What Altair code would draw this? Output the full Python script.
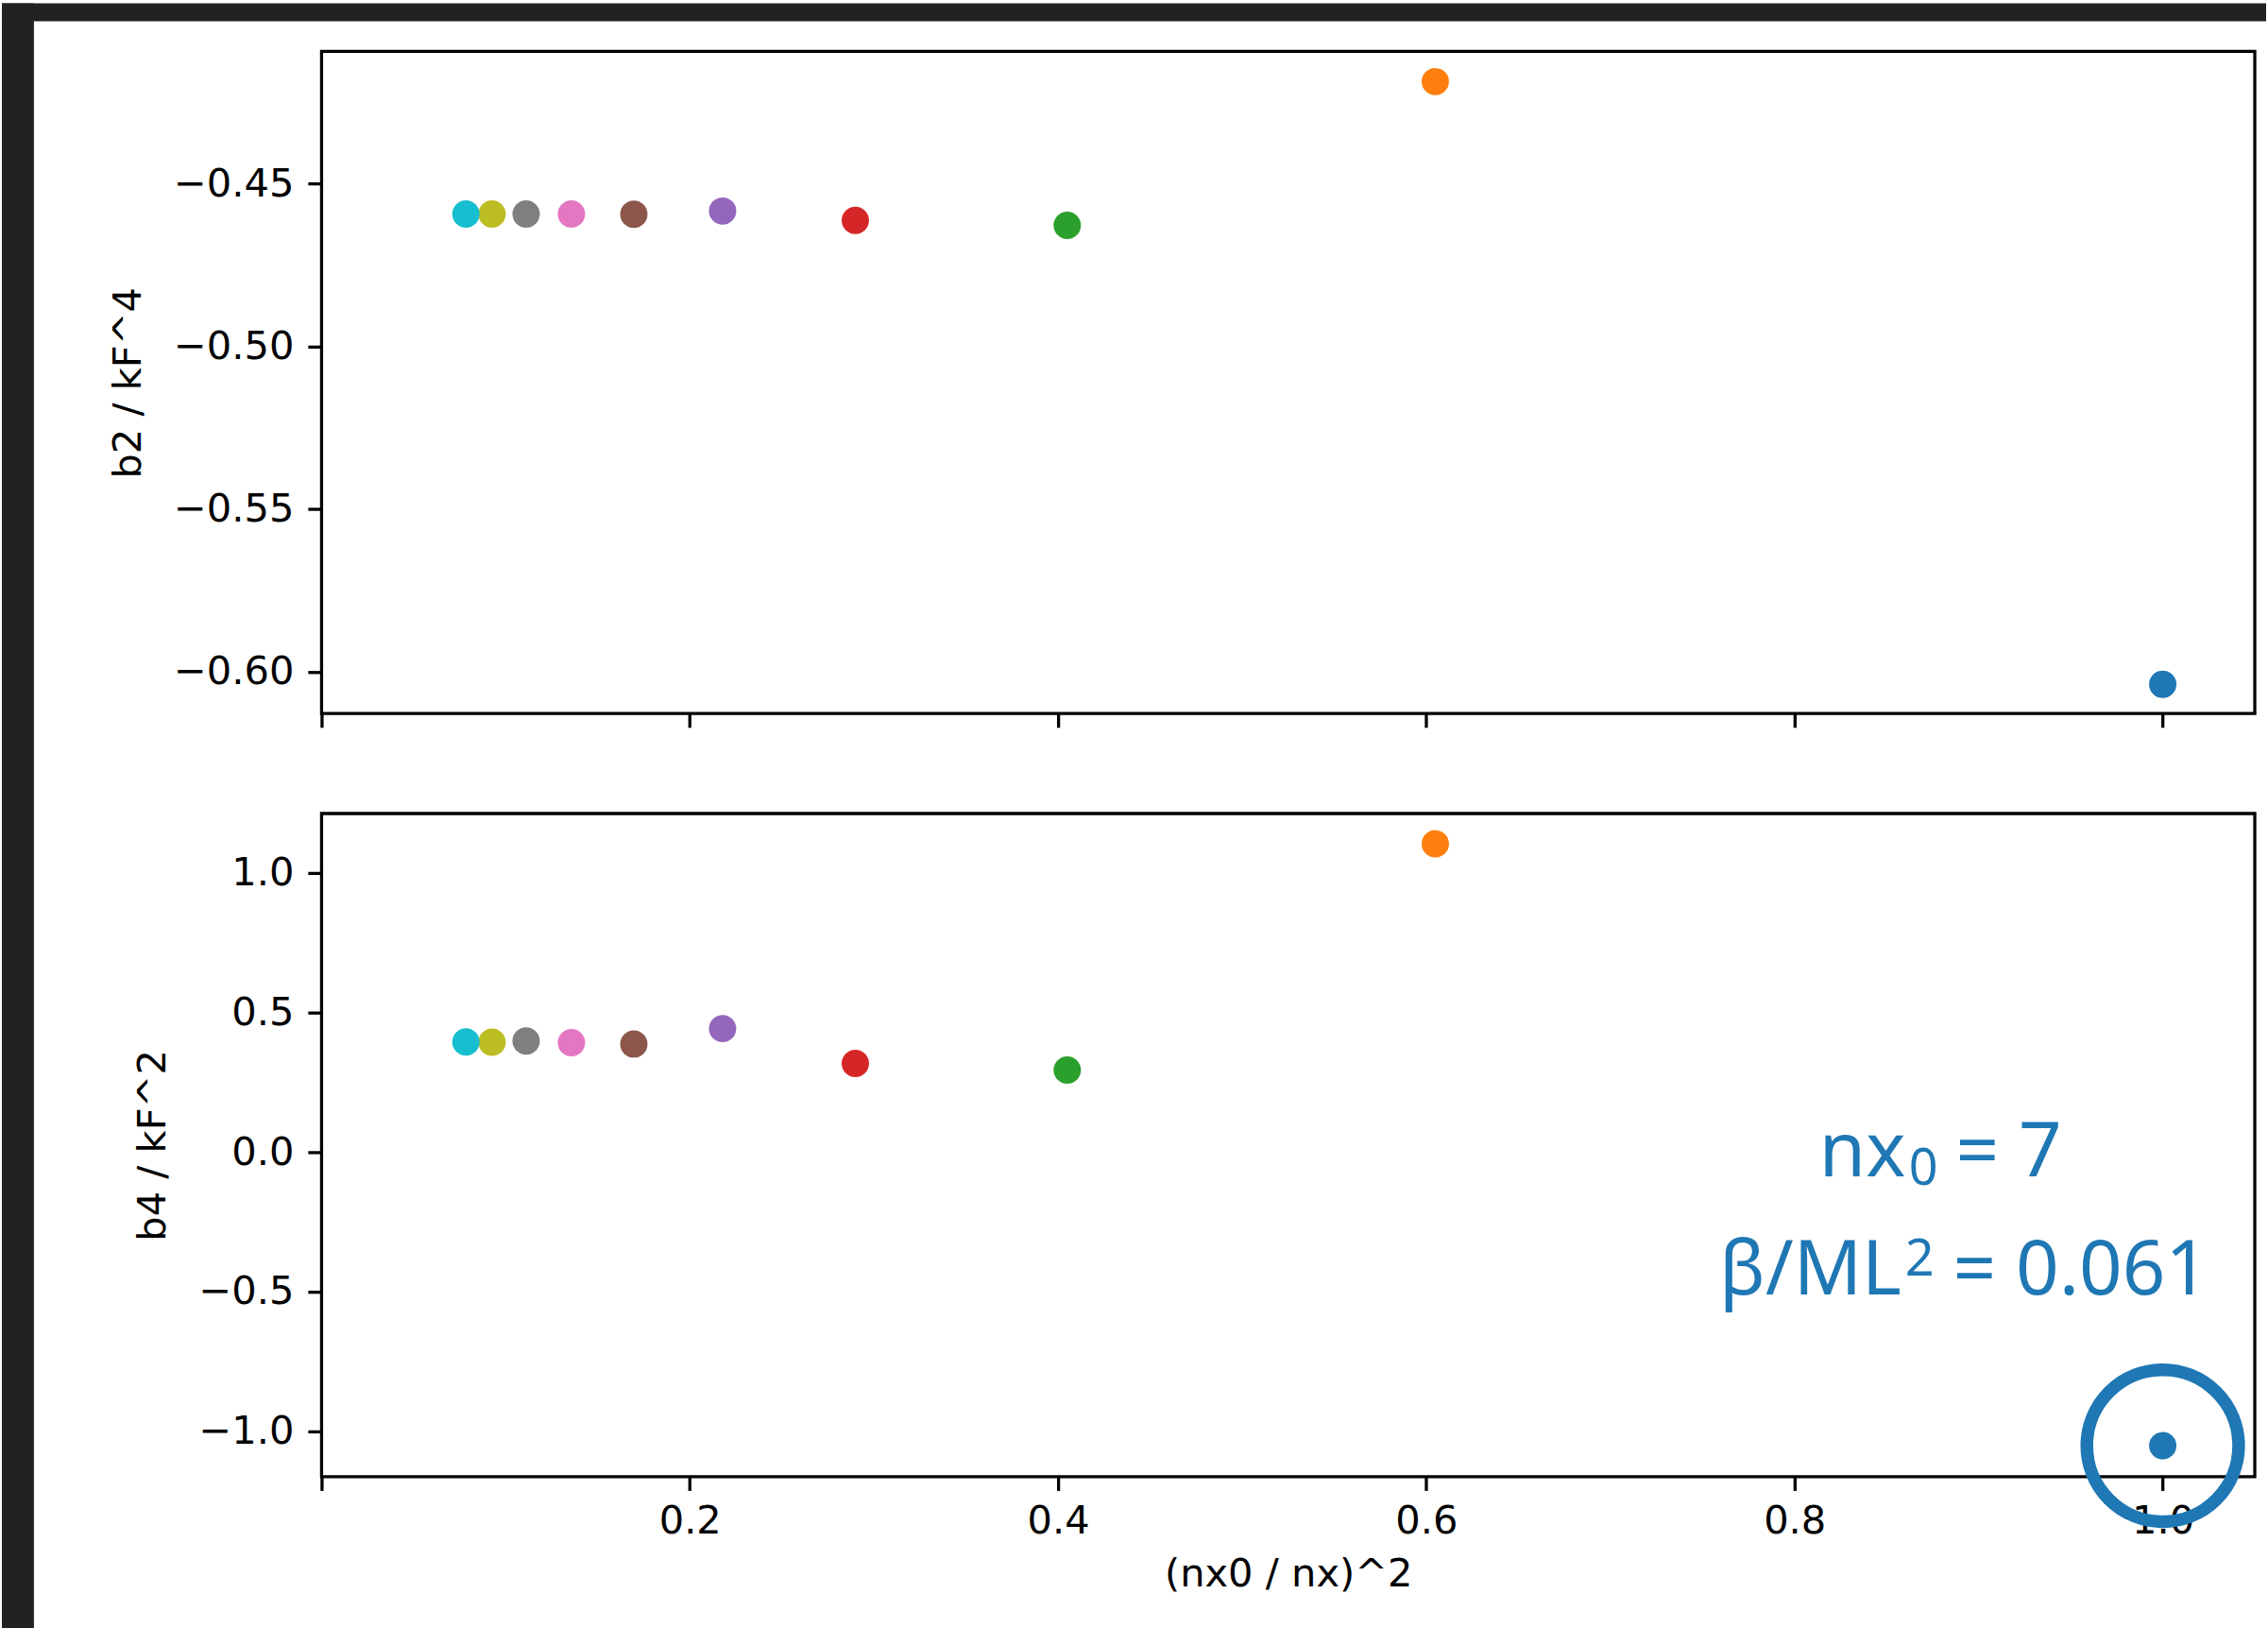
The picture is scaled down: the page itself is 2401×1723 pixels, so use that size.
import altair as alt
import pandas as pd

# ---- data ----
nx_values = [7, 9, 11, 13, 15, 17, 19, 21, 23, 25]
x_values = [1.0, 0.6049, 0.4050, 0.2899, 0.2178, 0.1696, 0.1357, 0.1111, 0.0926, 0.0784]
b2_values = [-0.6039, -0.4186, -0.4628, -0.4613, -0.4584, -0.4594, -0.4593, -0.4593, -0.4593, -0.4593]
b4_values = [-1.0527, 1.1034, 0.293, 0.3166, 0.4416, 0.3865, 0.391, 0.397, 0.393, 0.394]
tab10 = ["#1f77b4", "#ff7f0e", "#2ca02c", "#d62728", "#9467bd",
         "#8c564b", "#e377c2", "#7f7f7f", "#bcbd22", "#17becf"]

x_ticks = [0.0, 0.2, 0.4, 0.6, 0.8, 1.0]
top_ticks = [-0.60, -0.55, -0.50, -0.45]
bottom_ticks = [-1.0, -0.5, 0.0, 0.5, 1.0]

x_title = "(nx0 / nx)^2"
top_title = "b2 / kF^4"
bottom_title = "b4 / kF^2"
# annotation pieces
note1_main, note1_sub, note1_rest = "nx", "0", "= 7"
note2_main, note2_sup, note2_rest = "\u03b2/ML", "2", "= 0.061"
highlight_nx = [7]

df = pd.DataFrame({"nx": nx_values, "x": x_values, "b2": b2_values, "b4": b4_values})
df["order"] = range(len(df))
hl = df[df["nx"].isin(highlight_nx)]

W, H = 2050, 702
MINUS = "\u2212"
FS = 41.67
BLUE = "#1f77b4"

x_scale = alt.Scale(domain=[0.0, 1.05], nice=False, zero=False)
color = alt.Color("nx:N", scale=alt.Scale(domain=nx_values, range=tab10), legend=None)

# ---- top panel ----
top_points = alt.Chart(df).mark_circle(size=841, opacity=1).encode(
    x=alt.X("x:Q", scale=x_scale,
            axis=alt.Axis(values=x_ticks, labels=False, title=None)),
    y=alt.Y("b2:Q", scale=alt.Scale(domain=[-0.6129, -0.4093], nice=False, zero=False),
            axis=alt.Axis(values=top_ticks, title=top_title, titlePadding=26, labelPadding=15,
                          labelExpr=f"replace(format(datum.value, '.2f'), '-', '{MINUS}')")),
    color=color,
    order="order:Q",
)

frame_df = pd.DataFrame({"k": [0]})
left_strip = alt.Chart(frame_df).mark_rect(color="#222222", strokeWidth=0).encode(
    x=alt.value(-339), x2=alt.value(-305), y=alt.value(-51), y2=alt.value(1672))
top_strip = alt.Chart(frame_df).mark_rect(color="#222222", strokeWidth=0).encode(
    x=alt.value(-339), x2=alt.value(2062), y=alt.value(-51), y2=alt.value(-32))

top = alt.layer(left_strip, top_strip, top_points).properties(width=W, height=H)

# ---- bottom panel ----
bottom_points = alt.Chart(df).mark_circle(size=841, opacity=1).encode(
    x=alt.X("x:Q", scale=x_scale,
            axis=alt.Axis(values=x_ticks, title=x_title, labelPadding=12, titlePadding=15,
                          labelExpr="datum.value == 0 ? '' : format(datum.value, '.1f')")),
    y=alt.Y("b4:Q", scale=alt.Scale(domain=[-1.1635, 1.212], nice=False, zero=False),
            axis=alt.Axis(values=bottom_ticks, title=bottom_title, titlePadding=26, labelPadding=15,
                          labelExpr=f"replace(format(datum.value, '.1f'), '-', '{MINUS}')")),
    color=color,
    order="order:Q",
)

ring = alt.Chart(hl).mark_point(shape="circle", filled=False, size=25921,
                                strokeWidth=13.5, color=BLUE, opacity=1).encode(
    x=alt.X("x:Q", scale=x_scale),
    y=alt.Y("b4:Q"),
)


def note(text, px, py, size):
    return alt.Chart(pd.DataFrame({"t": [text]})).mark_text(
        font="Noto Sans", fontSize=size, color=BLUE, align="left", baseline="alphabetic"
    ).encode(x=alt.value(px), y=alt.value(py), text="t:N")


notes = [
    note(note1_main, 1588, 385, 80),
    note(note1_sub, 1683, 394, 54),
    note(note1_rest, 1733, 385, 80),
    note(note2_main, 1482, 510, 80),
    note(note2_sup, 1679, 490, 54),
    note(note2_rest, 1730, 510, 80),
]

bottom = alt.layer(bottom_points, ring, *notes).properties(width=W, height=H + 1)

chart = alt.vconcat(top, bottom, spacing=106, bounds="flush").properties(
    padding=0, background="white"
).configure_view(
    stroke="black", strokeWidth=3.3, fill="white"
).configure_axis(
    labelFont="DejaVu Sans", labelFontSize=FS, labelColor="black",
    titleFont="DejaVu Sans", titleFontSize=FS, titleColor="black", titleFontWeight="normal",
    tickColor="black", tickWidth=3.3, tickSize=14.6, domain=False, grid=False,
)

chart.save("out.html", embed_options={"renderer": "svg", "actions": False})
